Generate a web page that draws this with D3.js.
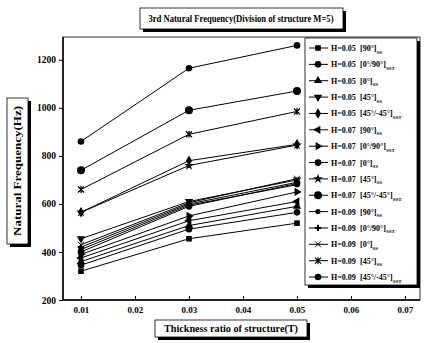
<!DOCTYPE html>
<html>
<head>
<meta charset="utf-8">
<script src="https://cdn.jsdelivr.net/npm/d3@7"></script>
<style>
  body { margin: 0; background: #fff; }
  svg text { font-family: "Liberation Serif", "DejaVu Serif", serif; font-weight: bold; fill: #000; }
</style>
</head>
<body>
<div id="chart"></div>
<script>
// thickness ratios (x)
var thickness = [0.01, 0.03, 0.05]

// legend labels, in legend order
var hValues = ["0.05", "0.05", "0.05", "0.05", "0.05", "0.07", "0.07", "0.07", "0.07", "0.07", "0.09", "0.09", "0.09", "0.09", "0.09"]
var layups = ["[90°]", "[0°/90°]", "[0°]", "[45°]", "[45°/-45°]", "[90°]", "[0°/90°]", "[0°]", "[45°]", "[45°/-45°]", "[90°]", "[0°/90°]", "[0°]", "[45°]", "[45°/-45°]"]
var subs = ["SS", "SST", "SS", "SS", "SST", "SS", "SST", "SS", "SS", "SST", "SS", "SST", "SS", "SS", "SST"]
var markers = ["square", "circle", "triUp", "triDown", "diamond", "triLeft", "triRight", "hexagon", "star", "bigCircle", "smallCircle", "plus", "cross", "asterisk", "circle"]

// natural frequency (Hz) at each thickness ratio, one row per legend entry
var freq = [
  [320, 455, 520],
  [345, 495, 565],
  [360, 510, 590],
  [455, 610, 700],
  [565, 780, 848],
  [375, 530, 610],
  [390, 550, 650],
  [400, 590, 685],
  [565, 760, 845],
  [740, 990, 1070],
  [410, 595, 680],
  [420, 600, 690],
  [430, 605, 705],
  [660, 890, 985],
  [860, 1165, 1260]
]

var yTicks = [200, 400, 600, 800, 1000, 1200]
var xTicks = [0.01, 0.02, 0.03, 0.04, 0.05, 0.06, 0.07]

var width = 427, height = 343

var svg = d3.select("#chart").append("svg")
  .attr("width", width)
  .attr("height", height)

var x = d3.scaleLinear().domain([0.00667, 0.07278]).range([63, 420])
var y = d3.scaleLinear().domain([200, 1295]).range([300, 37])

// draw a marker of a given kind centred at 0,0 into g
function drawMarker(g, kind) {
  if (kind == "square") g.append("rect").attr("x", -2.8).attr("y", -2.8).attr("width", 5.6).attr("height", 5.6)
  else if (kind == "circle") g.append("circle").attr("r", 3.3)
  else if (kind == "bigCircle") g.append("circle").attr("r", 4)
  else if (kind == "smallCircle") g.append("circle").attr("r", 2.6)
  else if (kind == "hexagon") g.append("path").attr("d", d3.symbol(d3.symbolCircle, 36)())
  else if (kind == "triUp") g.append("path").attr("d", d3.symbol(d3.symbolTriangle, 30)())
  else if (kind == "triDown") g.append("path").attr("d", d3.symbol(d3.symbolTriangle, 30)()).attr("transform", "rotate(180)")
  else if (kind == "triLeft") g.append("path").attr("d", d3.symbol(d3.symbolTriangle, 30)()).attr("transform", "rotate(-90)")
  else if (kind == "triRight") g.append("path").attr("d", d3.symbol(d3.symbolTriangle, 30)()).attr("transform", "rotate(90)")
  else if (kind == "diamond") g.append("path").attr("d", d3.symbol(d3.symbolDiamond, 32)())
  else if (kind == "star") g.append("path").attr("d", d3.symbol(d3.symbolStar, 30)())
  else if (kind == "plus") g.append("path").attr("d", d3.symbol(d3.symbolCross, 22)())
  else if (kind == "cross") g.append("path").attr("d", "M-3,-3L3,3M-3,3L3,-3").attr("stroke", "#000").attr("stroke-width", 1).attr("fill", "none")
  else if (kind == "asterisk") g.append("path").attr("d", "M-3,-3L3,3M-3,3L3,-3M0,-3.5L0,3.5").attr("stroke", "#000").attr("stroke-width", 1.2).attr("fill", "none")
}

// plot frame
svg.append("rect")
  .attr("x", 63).attr("y", 37)
  .attr("width", 357).attr("height", 263)
  .attr("fill", "none").attr("stroke", "#000").attr("stroke-width", 0.8)
svg.append("line").attr("x1", 63).attr("x2", 420).attr("y1", 300).attr("y2", 300)
  .attr("stroke", "#000").attr("stroke-width", 1.5)
svg.append("line").attr("x1", 63).attr("x2", 63).attr("y1", 37).attr("y2", 300)
  .attr("stroke", "#000").attr("stroke-width", 1.5)

// y axis
var yAxis = svg.append("g")
  .attr("transform", "translate(63,0)")
  .call(d3.axisLeft(y).tickValues(yTicks).tickSize(4).tickPadding(3).tickFormat(d3.format("d")))
yAxis.select(".domain").remove()
yAxis.selectAll("text").style("font-size", "9.5px").style("font-family", "'Liberation Serif', serif").style("font-weight", "bold")

// x axis, ticks pointing inward
var xAxis = svg.append("g")
  .attr("transform", "translate(0,300)")
  .call(d3.axisBottom(x).tickValues(xTicks).tickSize(-4).tickPadding(7).tickFormat(d3.format(".2f")))
xAxis.select(".domain").remove()
xAxis.selectAll("text").style("font-size", "9px").style("font-family", "'Liberation Serif', serif").style("font-weight", "bold")

// series lines and markers
var line = d3.line()
  .x(function(d, i) { return x(thickness[i]) })
  .y(function(d) { return y(d) })

var series = svg.append("g").selectAll("g")
  .data(freq)
  .enter().append("g")

series.append("path")
  .attr("d", line)
  .attr("fill", "none")
  .attr("stroke", "#000")
  .attr("stroke-width", 1)

series.each(function(row, k) {
  var g = d3.select(this)
  row.forEach(function(v, i) {
    var m = g.append("g").attr("transform", "translate(" + x(thickness[i]) + "," + y(v) + ")").attr("fill", "#000")
    drawMarker(m, markers[k])
  })
})

// boxes with drop shadow on right/bottom
function shadowBox(x0, y0, w, h) {
  svg.append("rect").attr("x", x0 + 3).attr("y", y0 + 3).attr("width", w).attr("height", h).attr("fill", "#000")
  svg.append("rect").attr("x", x0).attr("y", y0).attr("width", w).attr("height", h)
    .attr("fill", "#fff").attr("stroke", "#000").attr("stroke-width", 0.8)
}

// legend
shadowBox(305, 38, 112, 247)
var legend = svg.append("g").selectAll("g")
  .data(hValues)
  .enter().append("g")
  .attr("transform", function(d, i) { return "translate(0," + (48 + i * 16.36) + ")" })

legend.append("line")
  .attr("x1", 309).attr("x2", 328).attr("y1", 0).attr("y2", 0)
  .attr("stroke", "#000").attr("stroke-width", 1)
legend.each(function(d, i) {
  var m = d3.select(this).append("g").attr("transform", "translate(318,0)").attr("fill", "#000")
  drawMarker(m, markers[i])
})
legend.append("text")
  .attr("x", 331).attr("y", 3)
  .style("font-size", "8px")
  .text(function(d) { return "H=" + d })
var lt = legend.append("text")
  .attr("x", 360).attr("y", 3)
  .style("font-size", "8px")
lt.append("tspan").text(function(d, i) { return layups[i] })
lt.append("tspan").attr("dy", 2.5).style("font-size", "5px").text(function(d, i) { return subs[i] })

// title
shadowBox(140, 8, 203, 21)
svg.append("text")
  .attr("x", 241).attr("y", 22)
  .attr("text-anchor", "middle")
  .style("font-size", "10px")
  .attr("textLength", 185).attr("lengthAdjust", "spacingAndGlyphs")
  .text("3rd Natural Frequency(Division of structure M=5)")

// x axis title
shadowBox(155, 320, 152, 17)
svg.append("text")
  .attr("x", 231).attr("y", 332)
  .attr("text-anchor", "middle")
  .style("font-size", "9.5px")
  .attr("textLength", 134).attr("lengthAdjust", "spacingAndGlyphs")
  .text("Thickness ratio of structure(T)")

// y axis title
shadowBox(7, 98, 21, 146)
svg.append("text")
  .attr("transform", "translate(21,171) rotate(-90)")
  .attr("text-anchor", "middle")
  .style("font-size", "9.5px")
  .attr("textLength", 130).attr("lengthAdjust", "spacingAndGlyphs")
  .text("Natural Frequency(Hz)")
</script>
</body>
</html>
